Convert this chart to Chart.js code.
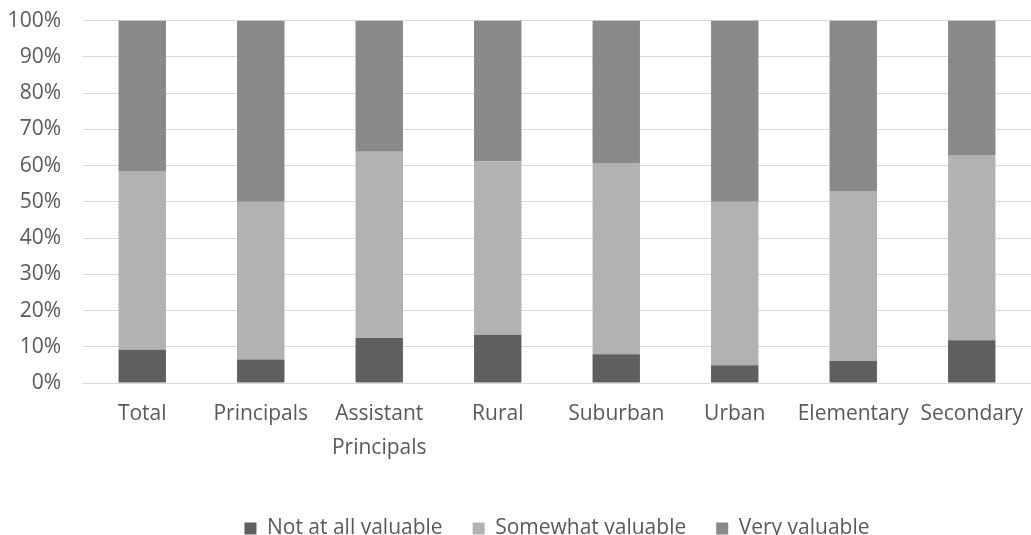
<!DOCTYPE html>
<html lang="en">
<head>
    <meta charset="UTF-8">
    <title>Value ratings</title>
    <script src="https://cdn.jsdelivr.net/npm/chart.js"></script>
    <style>
        html, body { margin: 0; padding: 0; background: #fff; }
        #wrap { width: 1031px; height: 535px; }
    </style>
</head>
<body>
    <div id="wrap"><canvas id="chart"></canvas></div>
    <script>
        const categories = ['Total', 'Principals', ['Assistant', 'Principals'], 'Rural', 'Suburban', 'Urban', 'Elementary', 'Secondary'];
        const notAtAll = [9.2, 6.5, 12.4, 13.3, 7.9, 4.9, 6.1, 11.8];
        const somewhat = [49.3, 43.5, 51.4, 47.9, 52.8, 45.1, 46.9, 51.1];
        const very = [41.5, 50.0, 36.2, 38.8, 39.3, 50.0, 47.0, 37.1];
        const yTicks = [0, 10, 20, 30, 40, 50, 60, 70, 80, 90, 100];

        const textColor = '#595959';
        const gridColor = '#d9d9d9';

        new Chart(document.getElementById('chart'), {
            type: 'bar',
            data: {
                labels: categories,
                datasets: [
                    { label: 'Not at all valuable', data: notAtAll, backgroundColor: '#5f5f5f' },
                    { label: 'Somewhat valuable', data: somewhat, backgroundColor: '#b2b2b2' },
                    { label: 'Very valuable', data: very, backgroundColor: '#898989' }
                ]
            },
            options: {
                responsive: true,
                maintainAspectRatio: false,
                animation: false,
                layout: { padding: { top: 0, right: 0, left: 0, bottom: -14 } },
                datasets: { bar: { barPercentage: 0.4, categoryPercentage: 1 } },
                plugins: {
                    tooltip: { enabled: false },
                    legend: {
                        position: 'bottom',
                        fullSize: false,
                        labels: {
                            boxWidth: 12,
                            boxHeight: 12,
                            padding: 30,
                            color: textColor,
                            font: { family: 'Open Sans', size: 21 }
                        }
                    }
                },
                scales: {
                    x: {
                        stacked: true,
                        grid: { display: false },
                        border: { color: gridColor, width: 1 },
                        ticks: {
                            color: textColor,
                            padding: 6,
                            maxRotation: 0,
                            autoSkip: false,
                            font: { family: 'Open Sans', size: 21, lineHeight: 1.62 }
                        },
                        afterFit: (scale) => { scale.height = 105; }
                    },
                    y: {
                        stacked: true,
                        min: 0,
                        max: 100,
                        afterBuildTicks: (scale) => { scale.ticks = yTicks.map(v => ({ value: v })); },
                        grid: { color: gridColor, drawTicks: true, tickLength: 14, tickColor: 'rgba(0,0,0,0)' },
                        border: { display: false },
                        ticks: {
                            color: textColor,
                            padding: 8,
                            font: { family: 'Open Sans', size: 21 },
                            callback: (v) => v + '%'
                        },
                        afterFit: (scale) => { scale.width = 83; }
                    }
                }
            }
        });
    </script>
</body>
</html>
